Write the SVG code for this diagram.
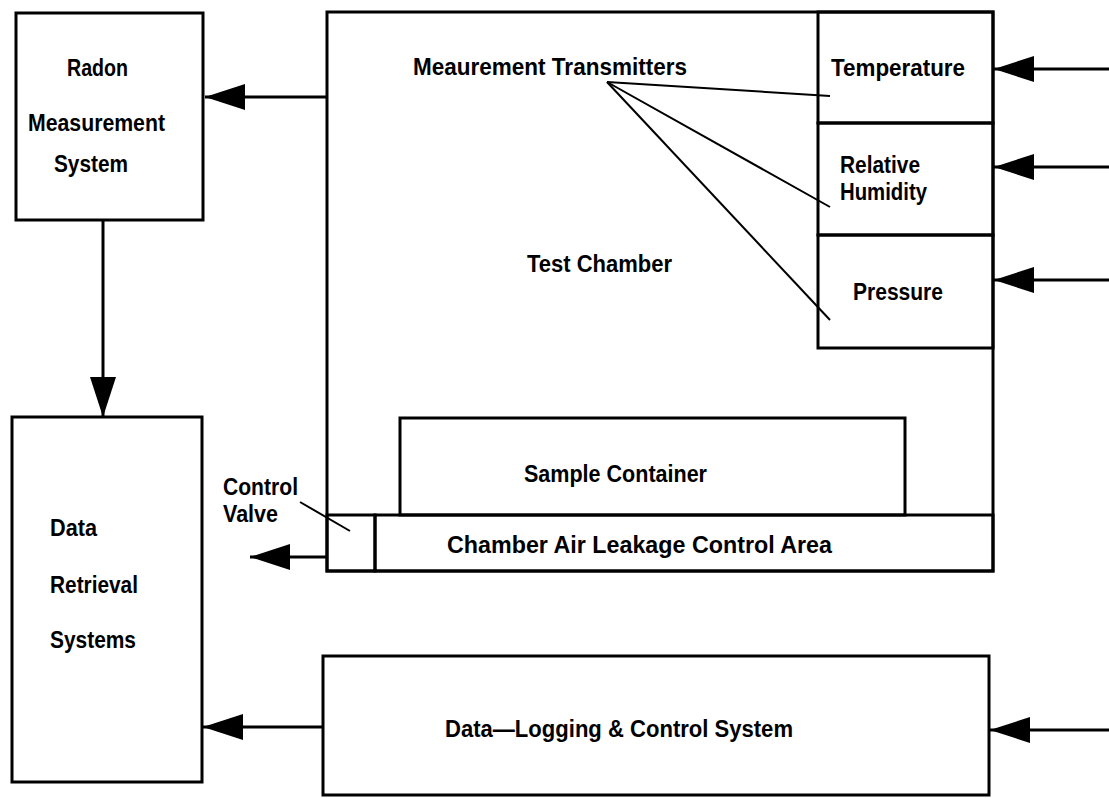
<svg xmlns="http://www.w3.org/2000/svg" width="1109" height="798" viewBox="0 0 1109 798">
<defs>
<style>
.box{fill:none;stroke:#000;stroke-width:3}
.ln{fill:none;stroke:#000;stroke-width:3}
.thin{fill:none;stroke:#000;stroke-width:2}
text{font-family:"Liberation Sans",Arial,sans-serif;font-weight:bold;font-size:23px;fill:#000}
</style>
<marker id="ah" markerUnits="userSpaceOnUse" markerWidth="40" markerHeight="26" refX="40" refY="13" orient="auto">
<path d="M0,0 L40,13 L0,26 Z" fill="#000"/>
</marker>
</defs>
<rect width="1109" height="798" fill="#fff"/>

<g id="radon">
<rect class="box" x="16" y="13" width="187" height="207"/>
<text x="67" y="76" textLength="61" lengthAdjust="spacingAndGlyphs">Radon</text>
<text x="28" y="131" textLength="137" lengthAdjust="spacingAndGlyphs">Measurement</text>
<text x="54" y="172" textLength="74" lengthAdjust="spacingAndGlyphs">System</text>
</g>

<g id="test-chamber">
<rect class="box" x="327" y="12" width="666" height="559"/>
<text x="413" y="75" textLength="274" lengthAdjust="spacingAndGlyphs">Meaurement Transmitters</text>
<text x="527" y="272" textLength="145" lengthAdjust="spacingAndGlyphs">Test Chamber</text>
</g>

<g id="temperature">
<rect class="box" x="818" y="12" width="175" height="111"/>
<text x="831" y="76" textLength="134" lengthAdjust="spacingAndGlyphs">Temperature</text>
</g>
<g id="humidity">
<rect class="box" x="818" y="123" width="175" height="112"/>
<text x="840" y="173" textLength="80" lengthAdjust="spacingAndGlyphs">Relative</text>
<text x="840" y="200" textLength="87" lengthAdjust="spacingAndGlyphs">Humidity</text>
</g>
<g id="pressure">
<rect class="box" x="818" y="235" width="175" height="113"/>
<text x="853" y="300" textLength="90" lengthAdjust="spacingAndGlyphs">Pressure</text>
</g>

<g id="sample-container">
<rect class="box" x="400" y="418" width="505" height="97"/>
<text x="524" y="482" textLength="183" lengthAdjust="spacingAndGlyphs">Sample Container</text>
</g>

<g id="leakage-area">
<rect class="box" x="375" y="515" width="618" height="56"/>
<text x="447" y="553" textLength="385" lengthAdjust="spacingAndGlyphs">Chamber Air Leakage Control Area</text>
</g>

<g id="control-valve">
<rect class="box" x="327" y="515" width="48" height="56"/>
<text x="223" y="495" textLength="75" lengthAdjust="spacingAndGlyphs">Control</text>
<text x="223" y="522" textLength="55" lengthAdjust="spacingAndGlyphs">Valve</text>
</g>

<g id="data-retrieval">
<rect class="box" x="12" y="417" width="190" height="365"/>
<text x="50" y="536" textLength="47" lengthAdjust="spacingAndGlyphs">Data</text>
<text x="50" y="593" textLength="88" lengthAdjust="spacingAndGlyphs">Retrieval</text>
<text x="50" y="648" textLength="86" lengthAdjust="spacingAndGlyphs">Systems</text>
</g>

<g id="data-logging">
<rect class="box" x="323" y="656" width="666" height="139"/>
<text x="445" y="737" textLength="348" lengthAdjust="spacingAndGlyphs">Data—Logging &amp; Control System</text>
</g>

<g id="connectors">
<line class="ln" x1="327" y1="97" x2="205" y2="97" marker-end="url(#ah)"/>
<line class="ln" x1="103" y1="220" x2="103" y2="417" marker-end="url(#ah)"/>
<line class="ln" x1="327" y1="557" x2="250" y2="557" marker-end="url(#ah)"/>
<line class="ln" x1="323" y1="727" x2="203" y2="727" marker-end="url(#ah)"/>
<line class="ln" x1="1109" y1="69" x2="994" y2="69" marker-end="url(#ah)"/>
<line class="ln" x1="1109" y1="167" x2="994" y2="167" marker-end="url(#ah)"/>
<line class="ln" x1="1109" y1="280" x2="994" y2="280" marker-end="url(#ah)"/>
<line class="ln" x1="1109" y1="730" x2="990" y2="730" marker-end="url(#ah)"/>
<line class="thin" x1="607" y1="82" x2="830" y2="96"/>
<line class="thin" x1="607" y1="82" x2="830" y2="207"/>
<line class="thin" x1="607" y1="82" x2="830" y2="320"/>
<line class="thin" x1="300" y1="502" x2="350" y2="531"/>
</g>
</svg>
